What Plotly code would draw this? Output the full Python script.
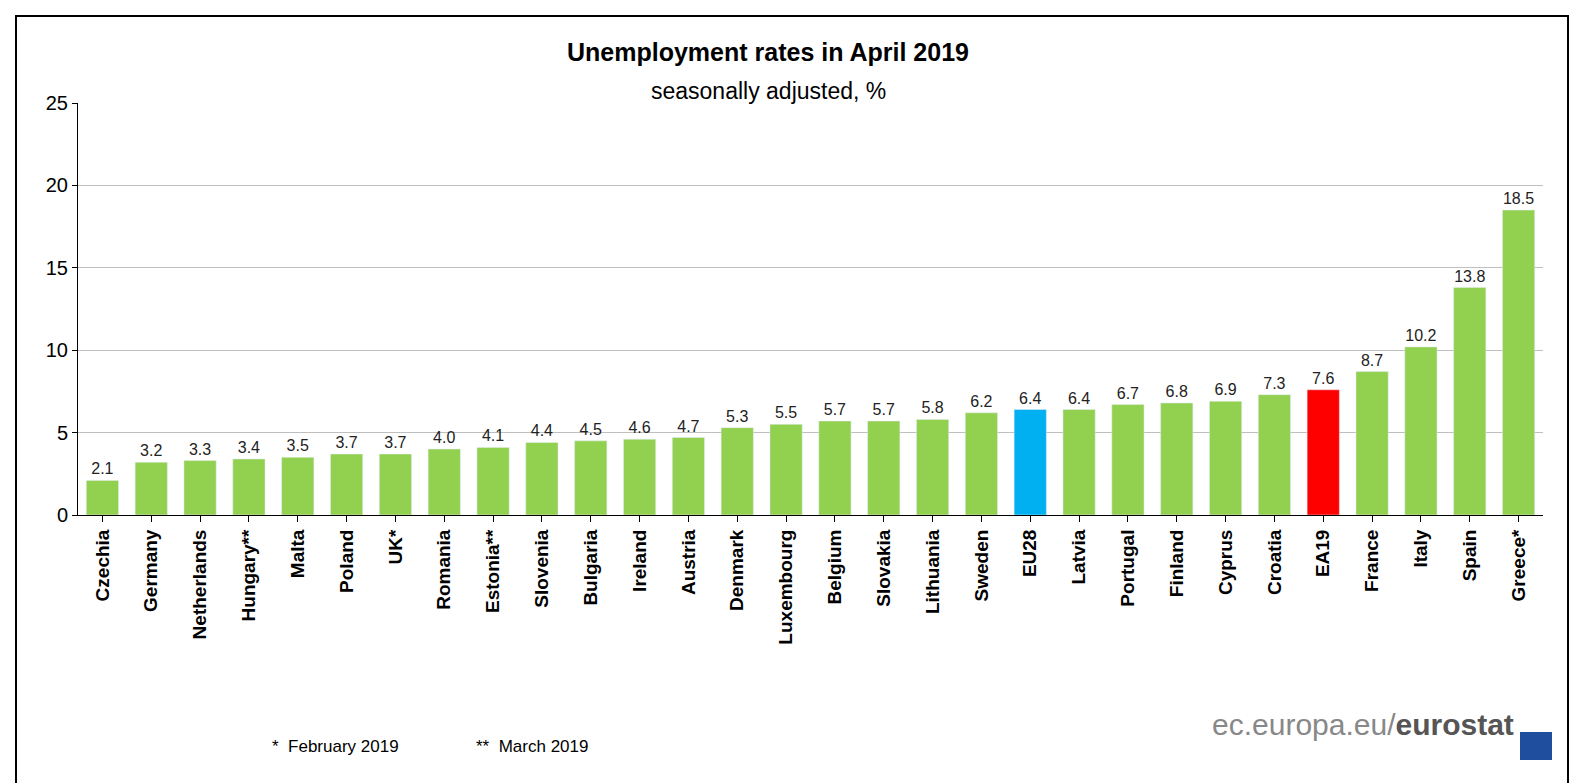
import plotly.graph_objects as go

countries = ["Czechia", "Germany", "Netherlands", "Hungary**", "Malta", "Poland", "UK*",
             "Romania", "Estonia**", "Slovenia", "Bulgaria", "Ireland", "Austria", "Denmark",
             "Luxembourg", "Belgium", "Slovakia", "Lithuania", "Sweden", "EU28", "Latvia",
             "Portugal", "Finland", "Cyprus", "Croatia", "EA19", "France", "Italy", "Spain", "Greece*"]
rates = [2.1, 3.2, 3.3, 3.4, 3.5, 3.7, 3.7, 4.0, 4.1, 4.4, 4.5, 4.6, 4.7, 5.3,
         5.5, 5.7, 5.7, 5.8, 6.2, 6.4, 6.4, 6.7, 6.8, 6.9, 7.3, 7.6, 8.7, 10.2, 13.8, 18.5]

colors = ["#00B0F0" if c == "EU28" else "#FF0000" if c == "EA19" else "#92D050" for c in countries]

W, H = 1579, 783
L, R, T, B = 70, 44, 95, 276
pw, ph = W - L - R, H - T - B

def px(x):
    return (x - L) / pw

def py(y):
    return (H - B - y) / ph

fig = go.Figure(go.Bar(
    x=countries, y=rates, marker_color=colors, width=0.66,
    text=[f"{v:.1f}" for v in rates], textposition="outside",
    textfont=dict(size=16, color="#222"), cliponaxis=False,
))

fig.update_layout(
    width=W, height=H, plot_bgcolor="white", paper_bgcolor="white",
    margin=dict(l=L, r=R, t=T, b=B),
    font=dict(family="Liberation Sans, Arial", color="black"),
    showlegend=False,
    xaxis=dict(tickangle=-90, tickfont=dict(size=19, weight="bold"),
               showline=True, linecolor="black", ticks="outside", ticklen=6,
               tickcolor="black"),
    yaxis=dict(range=[0, 25], dtick=5, showgrid=True, gridcolor="#BFBFBF",
               showline=True, linecolor="black", ticks="outside", ticklen=5,
               tickcolor="black", tickfont=dict(size=20), zeroline=False),
    annotations=[
        dict(text="<b>Unemployment rates in April 2019</b>", x=px(760), y=py(28),
             xref="paper", yref="paper", showarrow=False, font=dict(size=25)),
        dict(text="seasonally adjusted, %", x=px(760), y=py(68),
             xref="paper", yref="paper", showarrow=False, font=dict(size=23)),
        dict(text="*  February 2019", x=px(262), y=py(750), xanchor="left",
             xref="paper", yref="paper", showarrow=False, font=dict(size=17)),
        dict(text="**  March 2019", x=px(466), y=py(750), xanchor="left",
             xref="paper", yref="paper", showarrow=False, font=dict(size=17)),
        dict(text="<span style='color:#888'>ec.europa.eu/</span><b><span style='color:#555'>eurostat</span></b>",
             x=px(1508), y=py(735), xanchor="right",
             xref="paper", yref="paper", showarrow=False, font=dict(size=30)),
    ],
    shapes=[
        dict(type="rect", xref="paper", yref="paper", x0=px(8), x1=px(1560), y0=py(790), y1=py(8),
             line=dict(color="black", width=2), fillcolor="rgba(0,0,0,0)", layer="below"),
        dict(type="rect", xref="paper", yref="paper", x0=px(1512), x1=px(1544), y0=py(752), y1=py(724),
             line=dict(width=0), fillcolor="#1F4E9E"),
    ],
)

fig.write_html("out.html")
